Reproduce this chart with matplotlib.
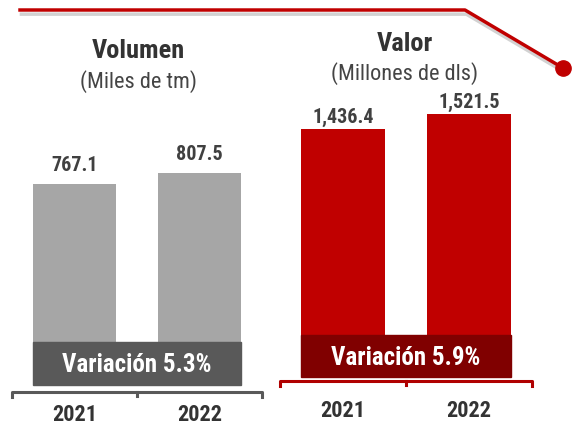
import matplotlib.pyplot as plt
from matplotlib.patches import Rectangle
from matplotlib.lines import Line2D
import matplotlib.patheffects as pe

# Data
years = ["2021", "2022"]
volumen = [767.1, 807.5]
valor = [1436.4, 1521.5]
volumen_labels = ["767.1", "807.5"]
valor_labels = ["1,436.4", "1,521.5"]
var_volumen = "Variación 5.3%"
var_valor = "Variación 5.9%"

W, H = 572, 425
FONT = ["Roboto Condensed", "DejaVu Sans"]

fig = plt.figure(figsize=(W / 100, H / 100), dpi=100)


def fx(x):
    return x / W


def fy(y):
    return 1 - y / H


def panel(left, right, base, top, values, labels, var_text, bar_color, box_color,
          bracket_color, box_h, bracket_gap, year_y, scale_px, label_gap):
    ax = fig.add_axes([fx(left), fy(base), fx(right - left), (base - top) / H])
    ymax = values[0] / scale_px * (base - top)
    ax.set_xlim(-0.5, 1.5)
    ax.set_ylim(0, ymax)
    ax.axis("off")
    width = 0.665
    x = [0, 1]
    ax.bar(x, values, width=width, color=bar_color, zorder=1)
    per_px = ymax / (base - top)
    for xi, v, lab in zip(x, values, labels):
        ax.text(xi, v + label_gap * per_px, lab, ha="center", va="baseline", fontsize=14.5,
                fontweight="bold", color="#404040", family=FONT)
    # variation box
    ax.add_patch(Rectangle((-width / 2, 0), 1 + width, box_h * per_px,
                           color=box_color, zorder=2, clip_on=False))
    ax.text(0.5, (box_h / 2 - 9) * per_px, var_text, ha="center", va="baseline",
            fontsize=18, fontweight="bold", color="white", family=FONT, zorder=3)
    # bracket
    yb = -bracket_gap * per_px
    yd = -(bracket_gap + 5) * per_px
    ax.plot([-0.5, -0.5, 1.5, 1.5], [yd, yb, yb, yd], color=bracket_color, lw=2.2,
            clip_on=False, solid_joinstyle="round")
    ax.plot([0.5, 0.5], [yb, yd + per_px], color=bracket_color, lw=2.2, clip_on=False)
    for xi, yr in zip(x, years):
        fig.text(fx(left) + fx(right - left) * (xi + 0.5) / 2.0, fy(year_y), yr,
                 ha="center", va="baseline", fontsize=16, fontweight="bold",
                 color="#333333", family=FONT)
    return ax


panel(12, 262, 385, 100, volumen, volumen_labels, var_volumen, "#a6a6a6", "#595959",
      "#595959", 43, 7, 421, 201, 13)
panel(280, 532, 377, 100, valor, valor_labels, var_valor, "#c00000", "#800000",
      "#b00000", 42, 4, 417, 248, 6.5)

# Titles
fig.text(fx(138), fy(58), "Volumen", ha="center", va="baseline", fontsize=19,
         fontweight="bold", color="#333333", family=FONT)
fig.text(fx(138), fy(88), "(Miles de tm)", ha="center", va="baseline", fontsize=16,
         color="#444444", family=FONT)
fig.text(fx(405), fy(51), "Valor", ha="center", va="baseline", fontsize=19,
         fontweight="bold", color="#333333", family=FONT)
fig.text(fx(405), fy(80), "(Millones de dls)", ha="center", va="baseline", fontsize=16,
         color="#444444", family=FONT)

# Decorative red line
line = Line2D([fx(20), fx(465), fx(563)], [fy(10), fy(10), fy(68)],
              transform=fig.transFigure, color="#c00000", lw=2.5,
              path_effects=[pe.SimpleLineShadow(offset=(1, -3), shadow_color="gray", alpha=0.35),
                            pe.Normal()])
fig.add_artist(line)
fig.add_artist(Line2D([fx(563)], [fy(68)], transform=fig.transFigure, marker="o",
                      markersize=11, color="#c00000"))

fig.savefig("out.png", dpi=100)
